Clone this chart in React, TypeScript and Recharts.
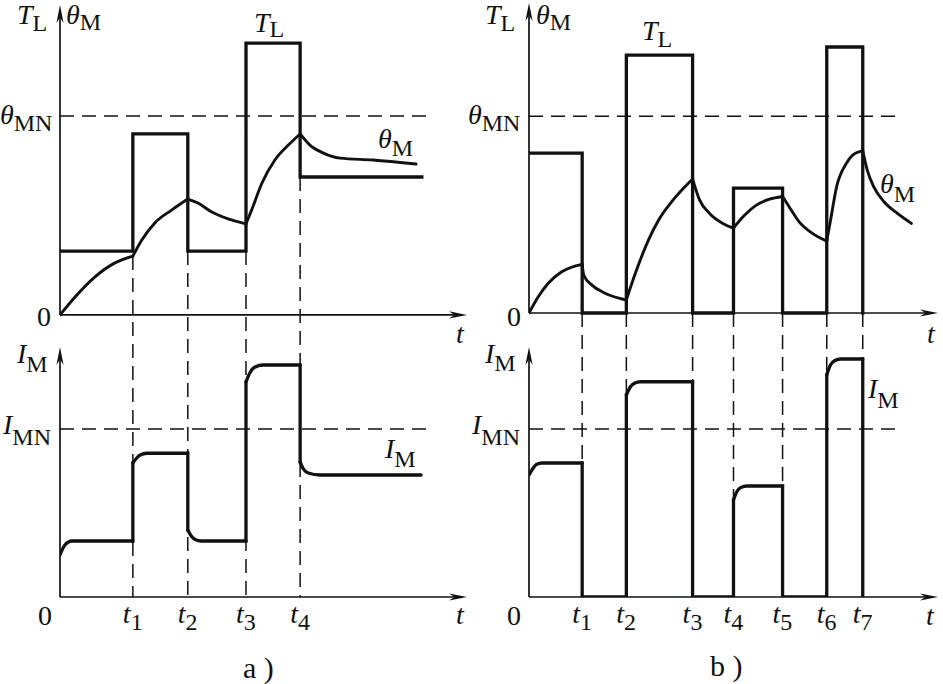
import React from 'react'
import { LineChart, Line, XAxis, YAxis, ReferenceLine } from 'recharts'

const INK = '#111'
const FONT = '"Liberation Serif", "Times New Roman", serif'

type Pt = [number, number]

// a) load T_L, temperature θ_M, current I_M
const tA = [1.79, 3.14, 4.57, 5.9]
const loadA: Pt[] = [[0, 2.06], [1.79, 5.84], [3.14, 2.06], [4.57, 8.77], [5.9, 4.45], [8.89, 4.45]]
const tempA: Pt[][] = [
  [[0, 0], [0.37, 0.58], [0.86, 1.23], [1.35, 1.68], [1.79, 1.9]],
  [[1.79, 1.9], [2.01, 2.42], [2.33, 2.97], [2.75, 3.39], [3.14, 3.74]],
  [[3.14, 3.74], [3.39, 3.61], [3.73, 3.32], [4.13, 3.1], [4.57, 2.94]],
  [[4.57, 2.94], [4.71, 3.39], [4.96, 4.25], [5.28, 5.0], [5.61, 5.48], [5.9, 5.84]],
  [[5.9, 5.84], [6.14, 5.48], [6.46, 5.23], [6.88, 5.06], [7.69, 5.0], [8.75, 4.87]],
]
const currA: Pt[][] = [
  [[0, 1.68], [0.12, 2.08], [0.29, 2.24], [1.79, 2.24]],
  [[1.79, 5.36], [1.88, 5.55], [1.97, 5.68], [2.13, 5.75], [3.14, 5.75]],
  [[3.14, 2.68], [3.22, 2.45], [3.32, 2.3], [3.47, 2.24], [4.57, 2.24]],
  [[4.57, 8.6], [4.66, 8.95], [4.77, 9.18], [4.99, 9.28], [5.9, 9.28]],
  [[5.9, 5.4], [5.98, 5.12], [6.1, 4.96], [6.39, 4.88], [8.87, 4.88]],
]
const dropA = [1.9, 2.06, 2.06, 4.45]
const tempRatedA = 6.42

// b) intermittent load with rests
const tB = [1.3, 2.38, 4.0, 5.0, 6.2, 7.28, 8.16]
const loadB: Pt[] = [[0, 5.16], [1.3, 0], [2.38, 8.32], [4.0, 0], [5.0, 4.03], [6.2, 0], [7.28, 8.58], [8.16, 0]]
const tempB: Pt[][] = [
  [[0, 0], [0.23, 0.53], [0.47, 0.96], [0.8, 1.33], [1.3, 1.57]],
  [[1.3, 1.57], [1.34, 1.22], [1.54, 0.9], [1.86, 0.64], [2.38, 0.42]],
  [[2.38, 0.42], [2.6, 1.28], [2.92, 2.35], [3.17, 3.0], [3.49, 3.59], [4.0, 4.32]],
  [[4.0, 4.32], [4.17, 3.65], [4.41, 3.22], [4.74, 2.89], [5.0, 2.74]],
  [[5.0, 2.74], [5.24, 3.11], [5.56, 3.48], [5.88, 3.67], [6.2, 3.76]],
  [[6.2, 3.76], [6.36, 3.43], [6.6, 2.95], [6.93, 2.57], [7.28, 2.32]],
  [[7.28, 2.32], [7.38, 3.05], [7.52, 4.07], [7.76, 4.83], [7.92, 5.1], [8.16, 5.23]],
  [[8.16, 5.23], [8.27, 4.61], [8.43, 4.07], [8.68, 3.59], [9.0, 3.22], [9.35, 2.89]],
]
const currB: Pt[][] = [
  [[0, 4.88], [0.1, 5.15], [0.18, 5.3], [0.32, 5.36], [1.3, 5.36]],
  [[1.3, 0], [2.38, 0]],
  [[2.38, 8.08], [2.48, 8.41], [2.58, 8.55], [2.72, 8.61], [4.0, 8.61]],
  [[4.0, 0], [5.0, 0]],
  [[5.0, 3.88], [5.08, 4.21], [5.18, 4.38], [5.33, 4.44], [6.2, 4.44]],
  [[6.2, 0], [7.28, 0]],
  [[7.28, 8.88], [7.37, 9.28], [7.47, 9.45], [7.62, 9.52], [8.16, 9.52]],
  [[8.16, 0]],
]
const tempRatedB = 6.35

const currRated = 6.72
const ratedEnd = 9.05

const pts = (a: Pt[]) => a.map(([x, y]) => ({ x, y }))
const joins = (segs: Pt[][]) =>
  segs.slice(1).map((s, i) => [segs[i][segs[i].length - 1], s[0]] as Pt[])

function Arrow(p: any) {
  const { x1, y1, x2, y2 } = p
  const a = Math.atan2(y2 - y1, x2 - x1)
  const c = Math.cos(a), s = Math.sin(a)
  const L = 18, W = 3.6
  const bx = x2 - L * c, by = y2 - L * s
  const nx = x2 - L * 0.7 * c, ny = y2 - L * 0.7 * s
  const d = `M${x2},${y2} L${bx - W * s},${by + W * c} L${nx},${ny} L${bx + W * s},${by - W * c} Z`
  return (
    <g>
      <line x1={x1} y1={y1} x2={nx} y2={ny} stroke={INK} strokeWidth={1.7} />
      <path d={d} fill={INK} />
    </g>
  )
}

function Sym({ x, y, m, s, sdy = 8 }: { x: number; y: number; m: string; s?: string; sdy?: number }) {
  return (
    <text x={x} y={y} fontFamily={FONT} fontSize={28} fill={INK}>
      <tspan fontStyle="italic">{m}</tspan>
      {s ? <tspan fontSize={24} dy={sdy}>{s}</tspan> : null}
    </text>
  )
}

const lineProps = { dataKey: 'y', dot: false, activeDot: false, isAnimationActive: false, stroke: INK, legendType: 'none' as const }

function Column({ left, width, top, topDomain, botDomain, t, load, temp, curr, drop, tempRated }: any) {
  const tickValues = [0, ...t]
  const tick = (p: any) => {
    const i = tickValues.indexOf(p.payload.value)
    if (i === 0) {
      return <text x={p.x - 8} y={p.y + 28} textAnchor="end" fontFamily={FONT} fontSize={28} fill={INK}>0</text>
    }
    return (
      <text x={p.x - 10} y={p.y + 26} fontFamily={FONT} fontSize={28} fill={INK}>
        <tspan fontStyle="italic">t</tspan>
        <tspan fontSize={24} dy={7}>{i}</tspan>
      </text>
    )
  }
  return (
    <div style={{ position: 'absolute', left, top: 0 }}>
      <LineChart width={width} height={684} margin={{ top, right: 5, bottom: 57, left: 60 }}>
        <XAxis type="number" dataKey="x" domain={[0, 10]} ticks={tickValues} interval={0} axisLine={false}
          tickLine={false} tickSize={0} tickMargin={0} height={30} tick={tick} allowDataOverflow />
        <YAxis yAxisId="top" type="number" domain={topDomain} hide allowDataOverflow />
        <YAxis yAxisId="bot" type="number" domain={botDomain} hide allowDataOverflow />

        {t.map((v: number, i: number) => (
          <ReferenceLine key={'d' + i} yAxisId="top" ifOverflow="visible"
            segment={[{ x: v, y: drop ? drop[i] : 0 }, { x: v, y: topDomain[0] }]}
            stroke={INK} strokeWidth={1.5} strokeDasharray="14 8" />
        ))}
        <ReferenceLine yAxisId="top" segment={[{ x: 0, y: tempRated }, { x: ratedEnd, y: tempRated }]}
          stroke={INK} strokeWidth={1.5} strokeDasharray="14 8" />
        <ReferenceLine yAxisId="bot" segment={[{ x: 0, y: currRated }, { x: ratedEnd, y: currRated }]}
          stroke={INK} strokeWidth={1.5} strokeDasharray="14 8" />

        <ReferenceLine yAxisId="top" segment={[{ x: 0, y: 0 }, { x: 0, y: 10 }]} shape={Arrow} ifOverflow="visible" />
        <ReferenceLine yAxisId="top" segment={[{ x: 0, y: 0 }, { x: 10, y: 0 }]} shape={Arrow} ifOverflow="visible" />
        <ReferenceLine yAxisId="bot" segment={[{ x: 0, y: 0 }, { x: 0, y: 10 }]} shape={Arrow} ifOverflow="visible" />
        <ReferenceLine yAxisId="bot" segment={[{ x: 0, y: 0 }, { x: 10, y: 0 }]} shape={Arrow} ifOverflow="visible" />

        <Line {...lineProps} yAxisId="top" data={pts(load)} type="stepAfter" strokeWidth={3.3} strokeLinecap="square" />
        {temp.map((seg: Pt[], i: number) => (
          <Line key={'th' + i} {...lineProps} yAxisId="top" data={pts(seg)} type="monotone" strokeWidth={2.9} strokeLinecap="round" />
        ))}
        {curr.filter((seg: Pt[]) => seg.length > 1).map((seg: Pt[], i: number) => (
          <Line key={'im' + i} {...lineProps} yAxisId="bot" data={pts(seg)} type="monotone" strokeWidth={3.3} strokeLinecap="round" />
        ))}
        {joins(curr).map((seg, i) => (
          <Line key={'j' + i} {...lineProps} yAxisId="bot" data={pts(seg)} type="linear" strokeWidth={3.3} strokeLinecap="square" />
        ))}
      </LineChart>
    </div>
  )
}

export default function App() {
  return (
    <div style={{ position: 'absolute', left: 0, top: 0, width: 943, height: 684, background: '#fff' }}>
      <Column left={0} width={472} top={5} topDomain={[-9.1, 10]} botDomain={[0, 23.68]}
        t={tA} load={loadA} temp={tempA} curr={currA} drop={dropA} tempRated={tempRatedA} />
      <Column left={469} width={474} top={3} topDomain={[-9.16, 10]} botDomain={[0, 23.76]}
        t={tB} load={loadB} temp={tempB} curr={currB} tempRated={tempRatedB} />
      <svg width={943} height={684} style={{ position: 'absolute', left: 0, top: 0, pointerEvents: 'none' }}>
        <Sym x={17} y={24} m="T" s="L" sdy={7} />
        <Sym x={66} y={24} m="θ" s="M" sdy={6} />
        <Sym x={0} y={124} m="θ" s="MN" sdy={7} />
        <text x={37} y={326} fontFamily={FONT} fontSize={28} fill={INK}>0</text>
        <Sym x={254} y={32} m="T" s="L" sdy={5} />
        <Sym x={378} y={148} m="θ" s="M" sdy={8} />
        <Sym x={456} y={343} m="t" />
        <Sym x={17} y={363} m="I" s="M" sdy={9} />
        <Sym x={3} y={434} m="I" s="MN" sdy={11} />
        <Sym x={385} y={458} m="I" s="M" sdy={9} />
        <Sym x={456} y={624} m="t" />
        <text x={243} y={678} fontFamily={FONT} fontSize={30} fill={INK}>a )</text>

        <Sym x={485} y={24} m="T" s="L" sdy={7} />
        <Sym x={536} y={24} m="θ" s="M" sdy={6} />
        <Sym x={468} y={124} m="θ" s="MN" sdy={7} />
        <text x={507} y={326} fontFamily={FONT} fontSize={28} fill={INK}>0</text>
        <Sym x={642} y={40} m="T" s="L" sdy={7} />
        <Sym x={880} y={193} m="θ" s="M" sdy={9} />
        <Sym x={927} y={343} m="t" />
        <Sym x={485} y={363} m="I" s="M" sdy={8} />
        <Sym x={472} y={434} m="I" s="MN" sdy={11} />
        <Sym x={868} y={398} m="I" s="M" sdy={10} />
        <Sym x={926} y={625} m="t" />
        <text x={710} y={676} fontFamily={FONT} fontSize={30} fill={INK}>b )</text>
      </svg>
    </div>
  )
}
